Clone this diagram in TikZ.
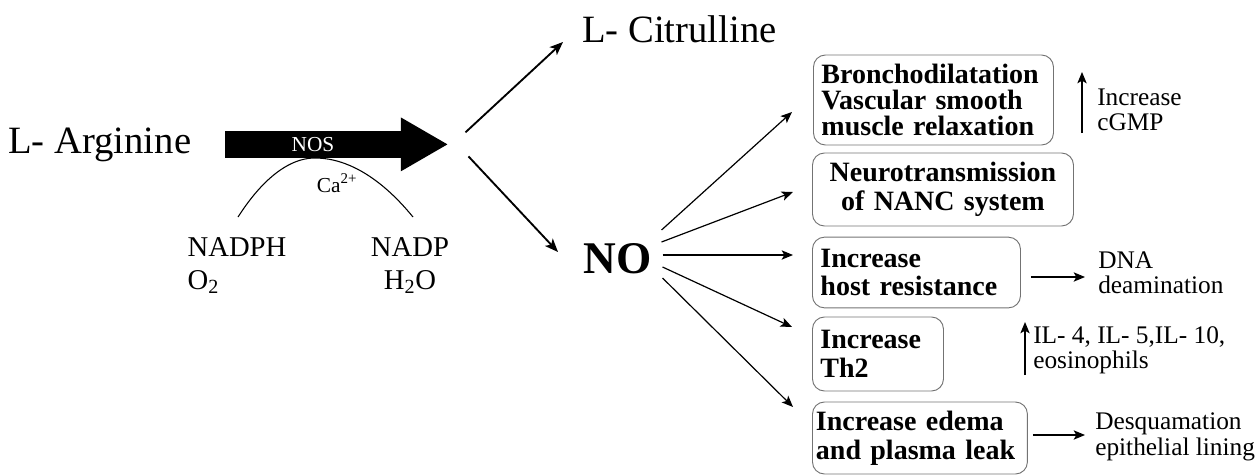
\documentclass[tikz,border=0pt]{standalone}
\usepackage{fontspec}
\setmainfont{Liberation Serif}
\usetikzlibrary{arrows.meta,positioning,calc}

\begin{document}
\begin{tikzpicture}[
  x=0.75pt, y=-0.75pt,
  box/.style={draw=black!55, line width=0.7pt, rounded corners=9pt, anchor=west,
    align=left, inner xsep=6pt, font=\fontsize{21}{21.5}\selectfont\bfseries},
  note/.style={anchor=west, align=left, inner sep=0pt, font=\fontsize{19}{19}\selectfont},
  arr/.style={-{Stealth[length=8.5pt,width=7pt,inset=2pt]}, line width=0.9pt},
  mainarr/.style={-{Stealth[length=10pt,width=8pt,inset=2.5pt]}, line width=1.4pt},
  nosarr/.style={line width=20.25pt, -{Triangle[length=35pt,width=40.5pt,line width=0pt]}}
]
\useasboundingbox (0,0) rectangle (1260,475);

% Substrate and enzyme
\node[anchor=base west, inner sep=0pt, font=\fontsize{29}{30}\selectfont] (arg) at (8,153) {L- Arginine};
\draw[nosarr] ($(arg.east)+(34,0)$) -- ++(222,0) coordinate (tip);
\node[text=white, font=\fontsize{16}{18}\selectfont] (nos) at (313,145) {NOS};
\node[font=\fontsize{16}{18}\selectfont] (ca) at (337,183) {Ca\textsuperscript{2+}};

% Cofactors
\node[anchor=north, align=left, inner sep=0pt, font=\fontsize{21.5}{25}\selectfont] (nadph) at (237,237) {NADPH\\O\textsubscript{2}};
\node[anchor=north, align=center, inner sep=0pt, font=\fontsize{21.5}{25}\selectfont] (nadp) at (410,237) {NADP\\H\textsubscript{2}O};
\draw[line width=0.8pt] ($(nadph.north)+(1,-20)$) parabola bend ($(nos.center)+(2,13)$) ($(nadp.north)+(3,-20)$);

% Products
\node[anchor=base west, inner sep=0pt, font=\fontsize{29}{30}\selectfont] (cit) at (582,42) {L- Citrulline};
\node[anchor=base west, inner sep=0pt, font=\fontsize{34}{36}\selectfont\bfseries] (no) at (583,273) {NO};
\draw[mainarr] ($(tip)+(18,-12)$) -- ($(cit.base west)+(-19,0)$);
\draw[mainarr] ($(tip)+(21,12)$) -- ($(no.base west)+(-25,-21)$);

% Effects of NO
\node[box, text width=168pt, minimum height=67.5pt, font=\fontsize{21}{19.5}\selectfont\bfseries] (bronch) at (813,100) {Bronchodilatation\\Vascular smooth\\muscle relaxation};
\node[box, align=center, text width=183.75pt, minimum height=54.75pt] (neuro) at (812,189.5) {Neurotransmission\\of NANC system};
\node[box, text width=144pt, minimum height=53pt] (host) at (812,272.5) {Increase\\host resistance};
\node[box, text width=86.25pt, minimum height=55.5pt] (th) at (812,354) {Increase\\Th2};
\node[box, text width=156pt, inner xsep=2.6pt, minimum height=54pt] (edema) at (812,438) {Increase edema\\and plasma leak};

\draw[arr] ($(no.base east)+(10,-43)$) -- ($(bronch.west)+(-21,12)$);
\draw[arr] ($(no.base east)+(10,-31)$) -- ($(neuro.west)+(-19,2.5)$);
\draw[arr] ($(no.base east)+(11,-18)$) -- ($(host.west)+(-19,-17.5)$);
\draw[arr] ($(no.base east)+(11,-6)$) -- ($(th.west)+(-20,-27)$);
\draw[arr] ($(no.base east)+(11,5)$) -- ($(edema.west)+(-19,-31)$);

% Side notes
\node[note] (cgmp) at (1097,110) {Increase\\cGMP};
\draw[arr] ($(cgmp.west)+(-15,23)$) -- ($(cgmp.west)+(-15,-38)$);

\node[note] (dna) at (1098,273) {DNA\\deamination};
\draw[arr] ($(host.east)+(10,4.5)$) -- ($(dna.west)+(-13,4)$);

\node[note] (il) at (1033,350) {IL- 4, IL- 5,IL- 10,\\eosinophils};
\draw[arr] ($(il.west)+(-8,25)$) -- ($(il.west)+(-8,-28)$);

\node[note] (desq) at (1095,437) {Desquamation\\epithelial lining};
\draw[arr] ($(edema.east)+(5,-3)$) -- ($(desq.west)+(-10,-2)$);

\end{tikzpicture}
\end{document}
